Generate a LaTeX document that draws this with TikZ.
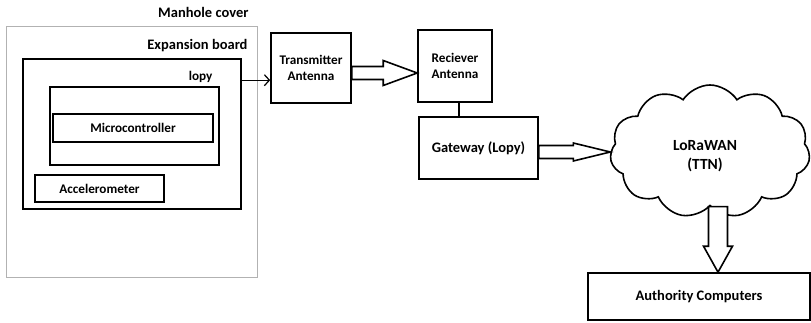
\documentclass[tikz,border=0pt]{standalone}
\usepackage{fontspec}
\setmainfont{Carlito}
\usetikzlibrary{arrows.meta,shapes.symbols,positioning,calc}

% hollow block arrow: from, to, shaft half width, head half width, head length
\newcommand{\hollowarrow}[5]{%
  \coordinate (hb) at ($(#2)!#5!(#1)$);
  \draw[line width=1.6pt, fill=white]
    ($(#1)!#3!90:(#2)$) -- ($(hb)!#3!-90:(#1)$) -- ($(hb)!#4!-90:(#1)$) -- (#2)
    -- ($(hb)!#4!90:(#1)$) -- ($(hb)!#3!90:(#1)$) -- ($(#1)!#3!-90:(#2)$) -- cycle;
}

\begin{document}
\begin{tikzpicture}[x=1pt,y=-1pt,
  lbl/.style={font=\bfseries\fontsize{14.5}{17}\selectfont},
  small/.style={font=\bfseries\fontsize{13.2}{16.5}\selectfont},
  box/.style={draw, line width=1.6pt, inner sep=0pt, align=center, lbl}]
\useasboundingbox (0,0) rectangle (811,323);
% Manhole cover with the boards inside
\node[draw=gray!60, line width=0.8pt, minimum width=251, minimum height=251] (manhole) at (131.5,151.5) {};
\node[lbl, anchor=east] (manholelbl) at (252,12) {Manhole cover};
\node[box, minimum width=218, minimum height=150] (exp) at (132,134) {};
\node[lbl, anchor=east] (explbl) at (251,46) {Expansion board};
\node[box, minimum width=169, minimum height=78] (lopy) at (134.5,126) {};
\node[small, anchor=east] (lopylbl) at (216,77) {lopy};
\node[box, small, minimum width=160, minimum height=28] (micro) at (133,128) {Microcontroller};
\node[box, small, minimum width=129, minimum height=27] (accel) at (99.5,188.5) {Accelerometer};
% Antennas and gateway
\node[box, small, minimum width=80, minimum height=70] (tx) at (311,68) {Transmitter\\Antenna};
\node[box, small, minimum width=74, minimum height=72] (rx) at (455,66) {Reciever\\Antenna};
\node[box, minimum width=119, minimum height=62] (gw) at (478.5,148) {Gateway (Lopy)};
% Network and end users
\node[cloud, draw, line width=1.6pt, cloud puffs=11, cloud puff arc=115, aspect=1.5,
  minimum width=200, minimum height=133, inner sep=0pt] (ttn) at (710,151.5) {};
\node[align=center, font=\bfseries\fontsize{15.5}{19}\selectfont] (ttnlbl) at (705,156) {LoRaWAN\\(TTN)};
\node[box, minimum width=222, minimum height=47] (auth) at (699,296.5) {Authority Computers};
% Links
\coordinate (e1) at ($(exp.north east)+(0,22)$);
\draw[line width=1.2pt, -{Straight Barb[length=5pt,width=11pt]}] (e1) -- (e1 -| tx.west);
\coordinate (t1) at ($(tx.east)+(0,5)$);
\hollowarrow{t1}{t1 -| rx.west}{6.5pt}{12.5pt}{34pt}
\coordinate (r1) at ($(rx.south)+(4,0)$);
\draw[line width=1.6pt] (r1) -- (r1 |- gw.north);
\coordinate (g1) at ($(gw.east)+(0,4)$);
\hollowarrow{g1}{g1 -| ttn.west}{6.5pt}{9pt}{37pt}
\coordinate (c1) at ($(ttn.south)+(8,0)$);
\hollowarrow{c1}{c1 |- auth.north}{9.5pt}{14.5pt}{26pt}
\end{tikzpicture}
\end{document}
